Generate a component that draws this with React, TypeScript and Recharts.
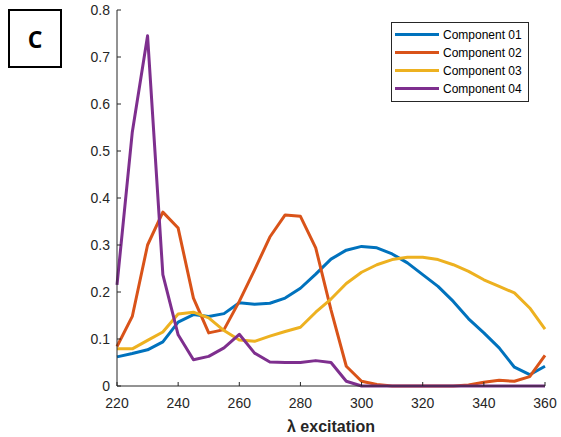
import { LineChart, Line, XAxis, YAxis, Legend } from 'recharts'

const wavelengths = [
  220, 225, 230, 235, 240, 245, 250, 255, 260, 265, 270, 275, 280, 285, 290,
  295, 300, 305, 310, 315, 320, 325, 330, 335, 340, 345, 350, 355, 360,
]

const component01 = [
  0.062, 0.069, 0.077, 0.094, 0.136, 0.152, 0.148, 0.154, 0.177, 0.174, 0.176, 0.187, 0.208, 0.238, 0.27,
  0.289, 0.297, 0.294, 0.281, 0.262, 0.237, 0.212, 0.18, 0.143, 0.113, 0.081, 0.04, 0.024, 0.042,
]
const component02 = [
  0.084, 0.148, 0.3, 0.37, 0.336, 0.187, 0.113, 0.12, 0.18, 0.247, 0.317, 0.364, 0.361, 0.294, 0.162,
  0.042, 0.01, 0.003, 0, 0, 0, 0, 0, 0.002, 0.008, 0.012, 0.01, 0.02, 0.065,
]
const component03 = [
  0.079, 0.079, 0.097, 0.115, 0.153, 0.157, 0.145, 0.118, 0.098, 0.095, 0.106, 0.116, 0.125, 0.157, 0.185,
  0.218, 0.242, 0.258, 0.269, 0.274, 0.274, 0.269, 0.258, 0.244, 0.226, 0.212, 0.198, 0.166, 0.121,
]
const component04 = [
  0.215, 0.54, 0.745, 0.237, 0.109, 0.056, 0.063, 0.081, 0.11, 0.07, 0.051, 0.05, 0.05, 0.054, 0.05,
  0.01, 0, 0, 0, 0, 0, 0, 0, 0, 0, 0, 0, 0, 0,
]

const seriesNames = ['Component 01', 'Component 02', 'Component 03', 'Component 04']
const seriesColors = ['#0072BD', '#D95319', '#EDB120', '#7E2F8E']
const seriesValues = [component01, component02, component03, component04]

const xTicks = [220, 240, 260, 280, 300, 320, 340, 360]
const yTicks = [0, 0.1, 0.2, 0.3, 0.4, 0.5, 0.6, 0.7, 0.8]

const data = wavelengths.map((wl, i) => {
  const row: Record<string, number> = { wl }
  seriesNames.forEach((name, s) => {
    row[name] = seriesValues[s][i]
  })
  return row
})

const AXIS = '#262626'
const FONT = '"Liberation Sans", Arial, sans-serif'

function LegendBox() {
  return (
    <div
      style={{
        border: `1px solid ${AXIS}`,
        background: '#fff',
        padding: '3px 6px 3px 3px',
        fontFamily: FONT,
        fontSize: 12,
        color: '#000',
      }}
    >
      {seriesNames.map((name, i) => (
        <div key={name} style={{ display: 'flex', alignItems: 'center', height: 17.9 }}>
          <span style={{ display: 'inline-block', width: 44, height: 3, background: seriesColors[i], marginRight: 4 }} />
          <span>{name}</span>
        </div>
      ))}
    </div>
  )
}

export default function App() {
  return (
    <div style={{ position: 'relative', width: 561, height: 437, background: '#fff' }}>
      <style>{'body { margin: 0; }'}</style>
      {/* panel letter */}
      <div
        style={{
          position: 'absolute',
          left: 8,
          top: 9,
          width: 50,
          height: 55,
          border: '2px solid #000',
          display: 'flex',
          alignItems: 'center',
          justifyContent: 'center',
          fontFamily: '"Open Sans", sans-serif',
          fontWeight: 700,
          fontSize: 23,
          color: '#000',
        }}
      >
        C
      </div>
      <LineChart width={561} height={437} data={data} margin={{ top: 10, right: 16, bottom: 0, left: 57 }}>
        <XAxis
          dataKey="wl"
          type="number"
          domain={[220, 360]}
          ticks={xTicks}
          height={51}
          stroke={AXIS}
          tickSize={-4}
          tickMargin={16}
          tick={{ fill: AXIS, fontSize: 14, fontFamily: FONT }}
          label={{
            value: 'λ excitation',
            position: 'insideBottom',
            offset: 5,
            fill: AXIS,
            fontSize: 16,
            fontWeight: 700,
            fontFamily: FONT,
          }}
        />
        <YAxis
          type="number"
          domain={[0, 0.8]}
          ticks={yTicks}
          width={60}
          stroke={AXIS}
          tickSize={-4}
          tickMargin={11}
          tickFormatter={(v: number) => (v === 0 ? '0' : v.toFixed(1))}
          tick={{ fill: AXIS, fontSize: 14, fontFamily: FONT }}
        />
        <Legend
          layout="vertical"
          align="center"
          verticalAlign="middle"
          wrapperStyle={{ left: 391, top: 22, width: 'auto', height: 'auto' }}
          content={() => <LegendBox />}
        />
        {seriesNames.map((name, i) => (
          <Line
            key={name}
            type="linear"
            dataKey={name}
            name={name}
            stroke={seriesColors[i]}
            strokeWidth={3}
            dot={false}
            strokeLinejoin="round"
            isAnimationActive={false}
          />
        ))}
      </LineChart>
    </div>
  )
}
